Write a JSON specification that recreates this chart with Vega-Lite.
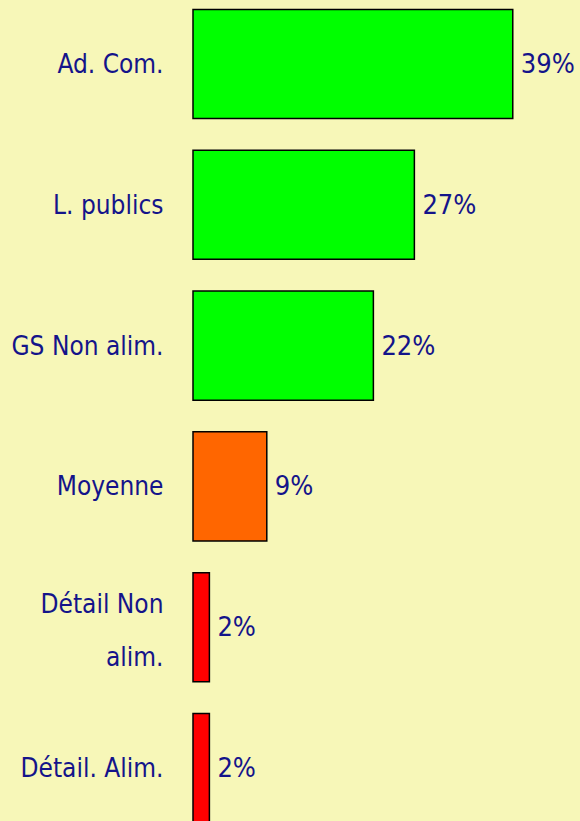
{
  "$schema": "https://vega.github.io/schema/vega-lite/v6.json",
  "autosize": "none",
  "padding": {"left": 193, "top": 0, "right": 0, "bottom": 0},
  "width": 387,
  "height": 821,
  "background": "#F7F7B8",
  "config": {
    "view": {"stroke": null},
    "font": "DejaVu Sans Condensed"
  },
  "data": {
    "values": [
      {"categorie": "Ad. Com.", "part": 0.39, "niveau": "haut"},
      {"categorie": "L. publics", "part": 0.27, "niveau": "haut"},
      {"categorie": "GS Non alim.", "part": 0.22, "niveau": "haut"},
      {"categorie": "Moyenne", "part": 0.09, "niveau": "moyen"},
      {"categorie": "Détail Non alim.", "part": 0.02, "niveau": "bas"},
      {"categorie": "Détail. Alim.", "part": 0.02, "niveau": "bas"}
    ]
  },
  "encoding": {
    "y": {
      "field": "categorie",
      "type": "nominal",
      "sort": null,
      "scale": {"range": [-6.4, 838.4], "paddingInner": 0.225, "paddingOuter": 0.1125},
      "axis": {
        "title": null,
        "domain": false,
        "ticks": false,
        "labelPadding": 30,
        "labelFont": "DejaVu Sans Condensed",
        "labelFontSize": 26,
        "labelColor": "#14148A",
        "labelLineHeight": 53,
        "labelLimit": 200,
        "labelOffset": {"condition": {"test": "datum.value == 'Détail Non alim.'", "value": -22}, "value": 1},
        "labelExpr": "datum.value == 'Détail Non alim.' ? ['Détail Non', 'alim.'] : datum.value"
      }
    },
    "x": {
      "field": "part",
      "type": "quantitative",
      "scale": {"domain": [0, 0.472], "nice": false},
      "axis": null
    }
  },
  "layer": [
    {
      "mark": {"type": "bar", "stroke": "#000000", "strokeWidth": 1.5},
      "encoding": {
        "color": {
          "field": "niveau",
          "type": "nominal",
          "scale": {"domain": ["haut", "moyen", "bas"], "range": ["#00FF00", "#FF6600", "#FF0000"]},
          "legend": null
        }
      }
    },
    {
      "mark": {"type": "text", "align": "left", "baseline": "middle", "dx": 8, "dy": 1, "fontSize": 27, "color": "#14148A", "font": "DejaVu Sans Condensed"},
      "encoding": {
        "text": {"field": "part", "type": "quantitative", "format": ".0%"}
      }
    }
  ]
}
